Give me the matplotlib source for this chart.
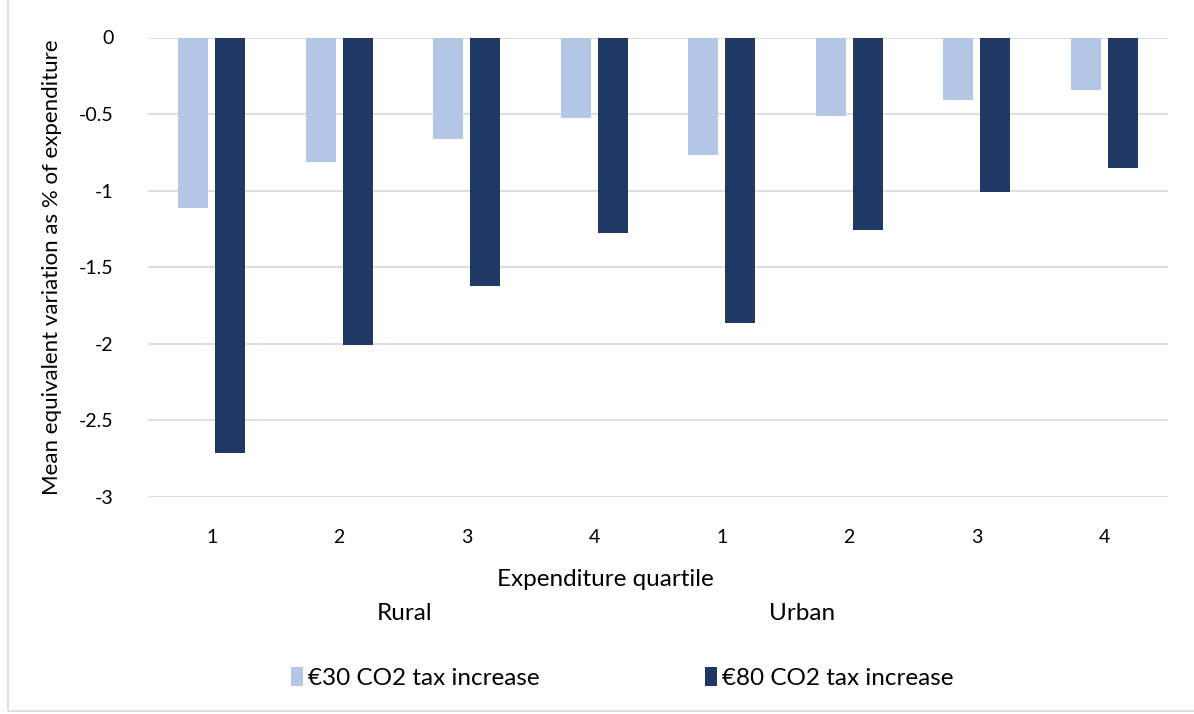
import matplotlib
matplotlib.use("Agg")
import matplotlib.pyplot as plt
import numpy as np
from matplotlib.patches import Rectangle

plt.rcParams['font.family'] = ['Lato', 'DejaVu Sans']

quartiles = ["1", "2", "3", "4", "1", "2", "3", "4"]
areas = ["Rural", "Urban"]
tax30 = [-1.115, -0.815, -0.665, -0.525, -0.77, -0.515, -0.41, -0.345]
tax80 = [-2.71, -2.01, -1.625, -1.275, -1.865, -1.26, -1.01, -0.85]
series_names = ["€30 CO2 tax increase", "€80 CO2 tax increase"]
colors = ["#B4C7E7", "#203864"]

fig = plt.figure(figsize=(11.94, 7.14), dpi=100)
ax = fig.add_axes([148/1194, 1-497/714, (1168-148)/1194, (497-37.5)/714])

x = np.arange(len(quartiles))
w = 0.235
off = 0.145
ax.bar(x - off, tax30, w, color=colors[0], label=series_names[0], zorder=3)
ax.bar(x + off, tax80, w, color=colors[1], label=series_names[1], zorder=3)

ax.set_xlim(-0.5, len(quartiles) - 0.5)
ax.set_ylim(-3, 0)
ax.set_yticks([0, -0.5, -1, -1.5, -2, -2.5, -3])
ax.set_yticklabels(["0", "-0.5", "-1", "-1.5", "-2", "-2.5", "-3"])
ax.set_xticks(x)
ax.set_xticklabels(quartiles)
ax.tick_params(axis='both', length=0, labelsize=14, colors='#000000')
ax.tick_params(axis='y', pad=25)
ax.tick_params(axis='x', pad=23)
ax.yaxis.grid(True, color='#D9D9D9', linewidth=1.2, zorder=0)
for s in ax.spines.values():
    s.set_visible(False)
ax.set_ylabel("Mean equivalent variation as % of expenditure", fontsize=16, labelpad=12)

fig.text(605/1194, 1-579/714, "Expenditure quartile", ha='center', va='center', fontsize=17.5)
fig.text(405/1194, 1-613/714, areas[0], ha='center', va='center', fontsize=17.5)
fig.text(802/1194, 1-613/714, areas[1], ha='center', va='center', fontsize=17.5)

h, l = ax.get_legend_handles_labels()
fig.legend(h, l, loc='center', bbox_to_anchor=(622/1194, 1-678/714), ncol=2, frameon=False,
           fontsize=17.5, handlelength=0.5, handleheight=0.8, handletextpad=0.2, columnspacing=6.8)

fig.patches.append(Rectangle((8/1194, 0.004), 1.2, 1.2, transform=fig.transFigure,
                             fill=False, edgecolor='#D9D9D9', linewidth=1.2))

fig.savefig("out.png", dpi=100)
